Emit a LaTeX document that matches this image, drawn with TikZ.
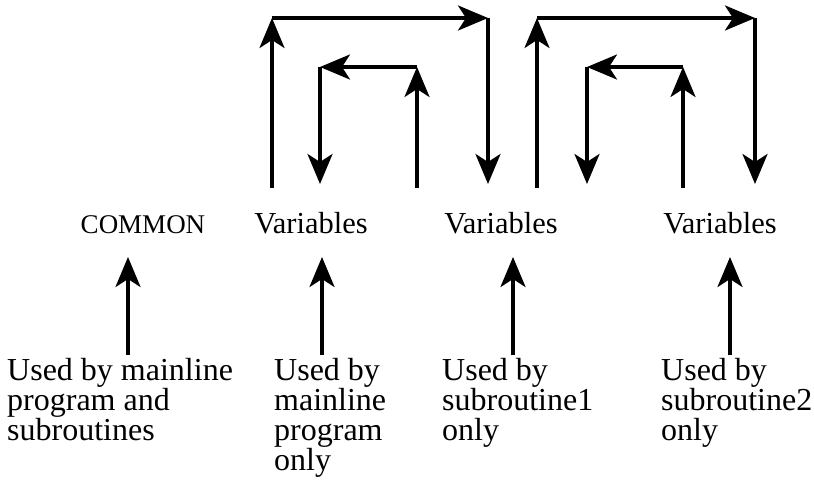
\documentclass[tikz,border=0pt]{standalone}
\usepackage{fontspec}
\setmainfont{Liberation Serif}
\usetikzlibrary{arrows.meta}
\begin{document}
\begin{tikzpicture}[x=1pt,y=-1pt,
  conn/.style={line width=3.5pt,-{Stealth[length=30pt,width=25pt,inset=8pt]}},
  varlabel/.style={anchor=base,inner sep=0pt,font=\fontsize{30.5}{30.5}\selectfont},
  desc/.style={anchor=north west,inner sep=0pt,align=left,font=\fontsize{32}{30}\selectfont}]
\useasboundingbox (0,0) rectangle (814,482);
% top labels
\node[varlabel,font=\fontsize{27}{27}\selectfont] (common) at (143,233) {COMMON};
\node[varlabel] (var1) at (311,233) {Variables};
\node[varlabel] (var2) at (501,233) {Variables};
\node[varlabel] (var3) at (720,233) {Variables};
% bottom descriptions
\node[desc] (d0) at (7,358) {Used by mainline\\program and\\subroutines};
\node[desc] (d1) at (274,358) {Used by\\mainline\\program\\only};
\node[desc] (d2) at (442,358) {Used by\\subroutine1\\only};
\node[desc] (d3) at (661,358) {Used by\\subroutine2\\only};
% bottom arrows
\coordinate (b0s) at (128,355); \coordinate (b0e) at (128,257);
\coordinate (b1s) at (322,355); \coordinate (b1e) at (322,257);
\coordinate (b2s) at (513,355); \coordinate (b2e) at (513,257);
\coordinate (b3s) at (730,355); \coordinate (b3e) at (730,257);
\draw[conn] (b0s) -- (b0e);
\draw[conn] (b1s) -- (b1e);
\draw[conn] (b2s) -- (b2e);
\draw[conn] (b3s) -- (b3e);
% loop group 1
\coordinate (A1) at (272,188); \coordinate (A2) at (272,18);
\coordinate (A3) at (488,18);  \coordinate (A4) at (488,184);
\coordinate (a1) at (417,188); \coordinate (a2) at (417,67);
\coordinate (a3) at (320,67);  \coordinate (a4) at (320,184);
\draw[conn] (A1) -- (A2);
\draw[conn] (A2) -- (A3);
\draw[conn] (A3) -- (A4);
\draw[conn] (a1) -- (a2);
\draw[conn] (a2) -- (a3);
\draw[conn] (a3) -- (a4);
% loop group 2
\coordinate (B1) at (537,188); \coordinate (B2) at (537,18);
\coordinate (B3) at (755,18);  \coordinate (B4) at (755,184);
\coordinate (c1) at (683,188); \coordinate (c2) at (683,67);
\coordinate (c3) at (587,67);  \coordinate (c4) at (587,184);
\draw[conn] (B1) -- (B2);
\draw[conn] (B2) -- (B3);
\draw[conn] (B3) -- (B4);
\draw[conn] (c1) -- (c2);
\draw[conn] (c2) -- (c3);
\draw[conn] (c3) -- (c4);
\end{tikzpicture}
\end{document}
